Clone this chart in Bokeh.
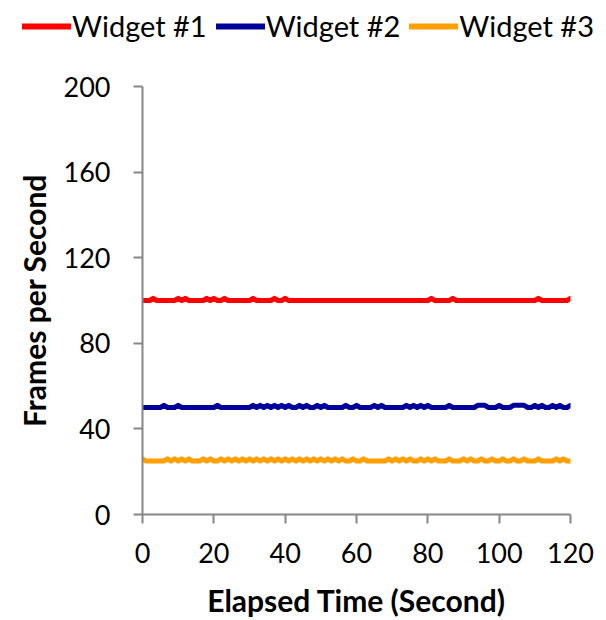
from bokeh.plotting import figure
from bokeh.models import Range1d, FixedTicker, Legend, LegendItem
from bokeh.layouts import column
from bokeh.embed import file_html
from bokeh.resources import INLINE

seconds = list(range(0, 121))

w1_bumps = [3, 10, 12, 18, 20, 23, 31, 37, 40, 81, 87, 111, 120]
w2_bumps = [6, 10, 21, 31, 33, 35, 37, 39, 41, 44, 46, 49, 51, 57, 60, 65, 67, 74, 76, 78,
            80, 86, 94, 95, 96, 100, 104, 105, 106, 107, 110, 112, 115, 117, 120]
w3_bumps = [0, 7, 9, 11, 13, 17, 19, 22, 24, 26, 28, 30, 32, 34, 36, 38, 40, 42, 44, 46, 48,
            50, 52, 54, 56, 59, 62, 69, 71, 73, 75, 78, 80, 82, 86, 90, 92, 95, 98, 101, 104,
            107, 111, 116, 118]

widget1 = [101 if t in w1_bumps else 100 for t in seconds]
widget2 = [51 if t in w2_bumps else 50 for t in seconds]
widget3 = [26 if t in w3_bumps else 25 for t in seconds]

series_names = ["Widget #1", "Widget #2", "Widget #3"]
series_colors = ["#FF0000", "#00009A", "#FFA000"]
series_values = [widget1, widget2, widget3]
y_ticks = [0, 40, 80, 120, 160, 200]
x_ticks = [0, 20, 40, 60, 80, 100, 120]

FONT = "Lato"
LEG_H = 50

p = figure(width=606, height=620 - LEG_H, output_backend="svg", toolbar_location=None,
           x_range=Range1d(0, 120), y_range=Range1d(0, 200),
           min_border_left=142, min_border_right=36, min_border_top=86 - LEG_H,
           min_border_bottom=106)
p.frame_align = False
p.outline_line_color = None
p.xgrid.grid_line_color = None
p.ygrid.grid_line_color = None

for vals, col in zip(series_values, series_colors):
    p.line(seconds, vals, line_color=col, line_width=5, line_join="round", line_cap="round")

for ax in (p.xaxis[0], p.yaxis[0]):
    ax.axis_line_color = "#868686"
    ax.axis_line_width = 2
    ax.major_tick_line_color = "#868686"
    ax.major_tick_line_width = 2
    ax.major_tick_out = 9
    ax.major_tick_in = 0
    ax.minor_tick_line_color = None
    ax.major_label_text_font = FONT
    ax.major_label_text_font_size = "27px"
    ax.major_label_text_color = "#000000"
    ax.axis_label_text_font = FONT
    ax.axis_label_text_font_size = "30px"
    ax.axis_label_text_font_style = "bold"
    ax.axis_label_text_color = "#000000"

p.xaxis.ticker = FixedTicker(ticks=x_ticks)
p.yaxis.ticker = FixedTicker(ticks=y_ticks)
p.xaxis.axis_label = "Elapsed Time (Second)"
p.yaxis.axis_label = "Frames per Second"
p.xaxis.major_label_standoff = 19
p.yaxis.major_label_standoff = 23
p.xaxis.axis_label_standoff = 16
p.yaxis.axis_label_standoff = 9

# legend strip on top (its own frame, not aligned with the chart's frame)
lg = figure(width=606, height=LEG_H, output_backend="svg", toolbar_location=None,
            x_range=Range1d(-2, -1), y_range=Range1d(-2, -1),
            x_axis_location=None, y_axis_location=None,
            min_border_left=0, min_border_right=0, min_border_top=0, min_border_bottom=0)
lg.frame_align = False
lg.grid.visible = False
lg.outline_line_color = None
items = []
for name, col, vals in zip(series_names, series_colors, series_values):
    r = lg.line(seconds, vals, line_color=col, line_width=6, line_cap="round")
    items.append(LegendItem(label=name, renderers=[r]))
legend = Legend(items=items, orientation="horizontal", location=(22, 7),
                border_line_color=None, background_fill_alpha=0,
                padding=0, spacing=9, margin=0,
                glyph_width=49, glyph_height=34, label_standoff=1,
                label_text_font=FONT, label_text_font_size="29px",
                label_text_color="#000000")
lg.add_layout(legend, "center")

layout = column(lg, p, spacing=0)
open("out.html", "w").write(file_html(layout, INLINE))
